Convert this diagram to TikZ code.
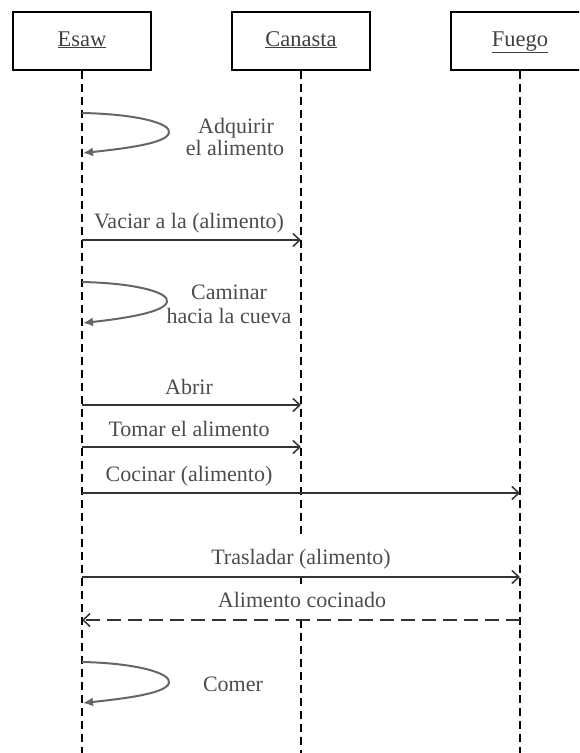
\documentclass[tikz,border=0pt]{standalone}
\usepackage{fontspec}
\setmainfont{Liberation Serif}
\usetikzlibrary{arrows.meta}
\begin{document}
\begin{tikzpicture}[x=1pt,y=-1pt,
  obj/.style={draw=black, line width=1.6pt, minimum width=138pt, minimum height=58pt, inner sep=0pt, text height=15pt, text depth=5pt, font=\fontsize{22.5}{26}\selectfont, text=black!75},
  life/.style={draw=black, line width=1.6pt, dash pattern=on 8pt off 5pt},
  msg/.style={draw=black!80, line width=1.5pt, -{Straight Barb[length=7pt,width=13pt,line width=1.5pt]}},
  ret/.style={msg, dash pattern=on 14pt off 7pt},
  selfmsg/.style={draw=black!60, line width=2pt, -{Latex[length=10pt,width=9pt]}},
  lbl/.style={font=\fontsize{22}{24}\selectfont, text=black!70, inner sep=0pt, anchor=base},
]
\useasboundingbox (0,0) rectangle (579,753);
\clip (0,0) rectangle (579,753);
% objects
\node[obj] (esaw) at (82,41) {\underline{Esaw}};
\node[obj] (canasta) at (301,41) {\underline{Canasta}};
\node[obj] (fuego) at (520,41) {\underline{Fuego}};
% lifeline ends
\coordinate (eend) at (82,753);
\coordinate (fend) at (520,753);
\coordinate (c1) at (301,538);
\coordinate (c2) at (301,576);
\coordinate (c3) at (301,584);
\coordinate (c4) at (301,620);
\coordinate (cend) at (301,753);
\draw[life] (esaw.south) -- (eend);
\draw[life] (fuego.south) -- (fend);
\draw[life] (canasta.south) -- (c1);
\draw[life] (c2) -- (c3);
\draw[life] (c4) -- (cend);
% self loop 1
\coordinate (s1a) at (82,113);
\coordinate (s1b) at (83,153);
\draw[selfmsg] (s1a) .. controls (135,114) and (172,123) .. (169,133) .. controls (166,143) and (130,148) .. (s1b);
\node[lbl] (t1a) at (236,133) {Adquirir};
\node[lbl] (t1b) at (235,155) {el alimento};
% Vaciar
\coordinate (m1a) at (82,240);
\coordinate (m1b) at (301,240);
\draw[msg] (m1a) -- (m1b);
\node[lbl] (t2) at (189,228) {Vaciar a la (alimento)};
% self loop 2
\coordinate (s2a) at (82,282);
\coordinate (s2b) at (83,323);
\draw[selfmsg] (s2a) .. controls (133,283) and (170,292) .. (167,302) .. controls (164,312) and (128,318) .. (s2b);
\node[lbl] (t3a) at (229,299) {Caminar};
\node[lbl] (t3b) at (229,323) {hacia la cueva};
% Abrir
\coordinate (m2a) at (82,405);
\coordinate (m2b) at (301,405);
\draw[msg] (m2a) -- (m2b);
\node[lbl] (t4) at (189,394) {Abrir};
% Tomar
\coordinate (m3a) at (82,447);
\coordinate (m3b) at (301,447);
\draw[msg] (m3a) -- (m3b);
\node[lbl] (t5) at (189,436) {Tomar el alimento};
% Cocinar
\coordinate (m4a) at (82,493);
\coordinate (m4b) at (520,493);
\draw[msg] (m4a) -- (m4b);
\node[lbl] (t6) at (189,481) {Cocinar (alimento)};
% Trasladar
\coordinate (m5a) at (82,577);
\coordinate (m5b) at (520,577);
\draw[msg] (m5a) -- (m5b);
\node[lbl] (t7) at (301,564) {Trasladar (alimento)};
% Alimento cocinado (return)
\coordinate (m6a) at (520,620);
\coordinate (m6b) at (82,620);
\draw[ret] (m6a) -- (m6b);
\node[lbl] (t8) at (302,607) {Alimento cocinado};
% self loop 3
\coordinate (s3a) at (82,662);
\coordinate (s3b) at (83,703);
\draw[selfmsg] (s3a) .. controls (135,663) and (172,673) .. (169,683) .. controls (166,693) and (130,698) .. (s3b);
\node[lbl] (t9) at (233,691) {Comer};
\end{tikzpicture}
\end{document}
